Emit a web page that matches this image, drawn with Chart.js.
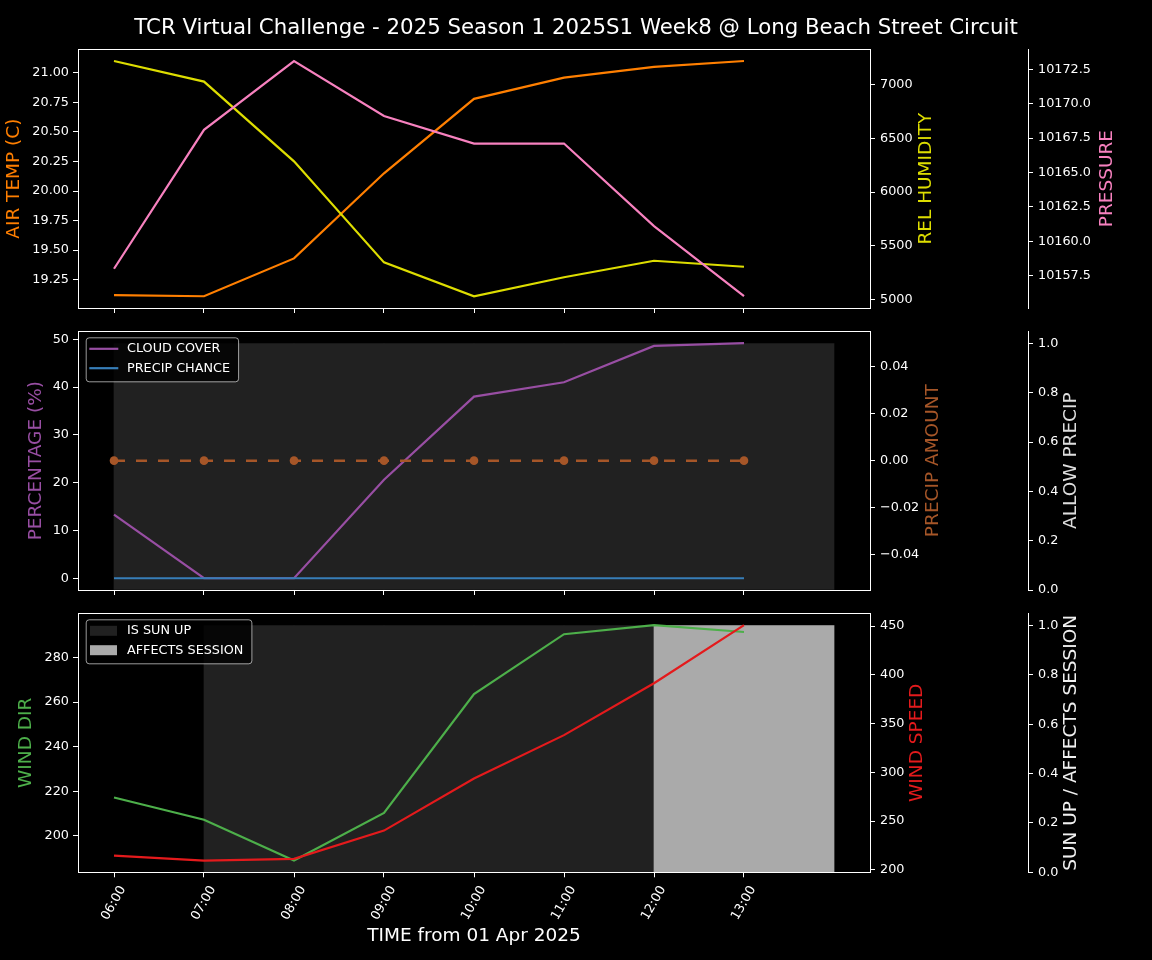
<!DOCTYPE html>
<html>
<head>
<meta charset="utf-8">
<title>TCR weather</title>
<script src="https://cdn.jsdelivr.net/npm/chart.js@4.4.1/dist/chart.umd.min.js"></script>
<style>
  html, body { margin: 0; padding: 0; background: #000; }
  #wrap { position: relative; width: 1152px; height: 960px; }
  #wrap canvas { position: absolute; left: 0; }
</style>
</head>
<body>
<div id="wrap">
  <canvas id="weather" width="1152" height="322" style="top:0px"></canvas>
  <canvas id="precip" width="1152" height="285" style="top:318px"></canvas>
  <canvas id="wind" width="1152" height="360" style="top:600px"></canvas>
</div>
<script>
// ---- data ----
const timeLabels = ['06:00', '07:00', '08:00', '09:00', '10:00', '11:00', '12:00', '13:00'];

const airTemp = [19.12, 19.11, 19.43, 20.15, 20.78, 20.96, 21.05, 21.10];
const relHumidity = [7223, 7031, 6287, 5344, 5028, 5205, 5359, 5303];
const pressure = [10158.0, 10168.1, 10173.1, 10169.1, 10167.1, 10167.1, 10161.1, 10156.0];

const cloudCover = [13.3, 0, 0, 20.6, 38.0, 41.0, 48.6, 49.2];
const precipChance = [0, 0, 0, 0, 0, 0, 0, 0];
const precipAmount = [0, 0, 0, 0, 0, 0, 0, 0];
const allowPrecip = [1, 1, 1, 1, 1, 1, 1, 1];

const windDir = [217.2, 207.2, 188.9, 210.3, 263.6, 290.5, 294.6, 291.5];
const windSpeed = [214.6, 209.5, 211.2, 240.2, 293.7, 338.1, 391.3, 451.0];
const sunUp = [0, 1, 1, 1, 1, 1, 1, 1];
const affectsSession = [0, 0, 0, 0, 0, 0, 1, 1];

// tick labels
const tempTicks = [19.25, 19.5, 19.75, 20.0, 20.25, 20.5, 20.75, 21.0];
const humidityTicks = [5000, 5500, 6000, 6500, 7000];
const pressureTicks = [10157.5, 10160.0, 10162.5, 10165.0, 10167.5, 10170.0, 10172.5];
const percentTicks = [0, 10, 20, 30, 40, 50];
const precipAmountTicks = [-0.04, -0.02, 0.0, 0.02, 0.04];
const unitTicks = [0.0, 0.2, 0.4, 0.6, 0.8, 1.0];
const windDirTicks = [200, 220, 240, 260, 280];
const windSpeedTicks = [200, 250, 300, 350, 400, 450];

// ---- look ----
const FAM = "'DejaVu Sans', sans-serif";
const tickFont = { family: FAM, size: 12.8 };
const labelFont = { family: FAM, size: 18.5 };
const C = {
  temp: '#ff7f00', hum: '#dddd00', press: '#f781bf',
  cloud: '#984ea3', chance: '#377eb8', amount: '#a65628',
  dir: '#4daf4a', speed: '#e41a1c',
  dark: '#212121', light: '#aaaaaa'
};

// matplotlib-like 5% margins
function padded(values) {
  const lo = Math.min(...values), hi = Math.max(...values);
  if (hi === lo) return [lo - 0.055, hi + 0.055];
  const m = (hi - lo) * 0.05;
  return [lo - m, hi + m];
}
const xRange = [-0.4, 8.4];
const unitRange = [0, 1.05];

const pts = arr => arr.map((v, i) => ({ x: i, y: v }));
const hourBars = arr => arr.map((v, i) => ({ x: i + 0.5, y: v }));
const minus = s => s.replace('-', '\u2212');

function yAxis(opt) {
  return {
    type: 'linear',
    position: opt.pos,
    weight: opt.weight || 0,
    min: opt.range[0],
    max: opt.range[1],
    afterFit: s => { s.width = opt.width; },
    afterBuildTicks: s => { s.ticks = opt.ticks.map(v => ({ value: v })); },
    ticks: { color: '#fff', font: tickFont, padding: opt.pos === 'left' ? 4 : 5,
             autoSkip: false, callback: opt.fmt },
    grid: { display: true, drawOnChartArea: false, color: '#fff', tickLength: 5 },
    border: { display: true, color: '#fff', width: 1 },
    title: opt.title
      ? { display: true, text: opt.title, color: opt.titleColor, font: labelFont,
          padding: { top: opt.titlePad, bottom: 0 } }
      : { display: false }
  };
}

function xAxis(height, withLabels) {
  return {
    type: 'linear',
    position: 'bottom',
    min: xRange[0],
    max: xRange[1],
    offset: false,
    bounds: 'data',
    afterFit: s => { s.height = height; },
    afterBuildTicks: s => { s.ticks = timeLabels.map((t, i) => ({ value: i })); },
    ticks: { display: withLabels, color: '#fff', font: tickFont, autoSkip: false,
             minRotation: 60, maxRotation: 60, labelOffset: 9, padding: 6,
             callback: (v, i) => timeLabels[i] },
    grid: { display: true, drawOnChartArea: false, offset: false, color: '#fff', tickLength: 5 },
    border: { display: true, color: '#fff', width: 1 },
    title: withLabels
      ? { display: true, text: 'TIME from 01 Apr 2025', color: '#fff', font: labelFont,
          padding: { top: 0, bottom: 12.9 } }
      : { display: false }
  };
}

// frame round the plot area
const frame = {
  id: 'frame',
  afterDraw(chart) {
    const a = chart.chartArea, ctx = chart.ctx;
    ctx.save();
    ctx.strokeStyle = '#fff';
    ctx.lineWidth = 1;
    ctx.strokeRect(Math.round(a.left) + 0.5, Math.round(a.top) + 0.5,
                   Math.round(a.right - a.left), Math.round(a.bottom - a.top));
    ctx.restore();
  }
};

// titles of right-hand axes, reading bottom to top
const sideTitles = {
  id: 'sideTitles',
  afterDraw(chart, args, opts) {
    const ctx = chart.ctx;
    (opts.items || []).forEach(it => {
      const s = chart.scales[it.scale];
      ctx.save();
      ctx.translate(s.left + it.dx, (s.top + s.bottom) / 2);
      ctx.rotate(-Math.PI / 2);
      ctx.font = labelFont.size + 'px ' + FAM;
      ctx.fillStyle = it.color;
      ctx.textAlign = 'center';
      ctx.textBaseline = 'middle';
      ctx.fillText(it.text, 0, 0);
      ctx.restore();
    });
  }
};

// legend boxed inside the plot area (top left)
const boxLegend = {
  id: 'boxLegend',
  afterDatasetsDraw(chart, args, opts) {
    if (!opts.datasets) return;
    const ctx = chart.ctx, a = chart.chartArea;
    const items = opts.datasets.map(i => chart.data.datasets[i]);
    ctx.save();
    ctx.font = tickFont.size + 'px ' + FAM;
    const textW = Math.max(...items.map(d => ctx.measureText(d.label).width));
    const x = a.left + 7.7, y = a.top + 6;
    const w = 41.3 + textW + 8, h = 44;
    ctx.beginPath();
    ctx.roundRect(x + 0.5, y + 0.5, w, h, 3);
    ctx.fillStyle = 'rgba(0,0,0,0.8)';
    ctx.fill();
    ctx.strokeStyle = 'rgba(255,255,255,0.6)';
    ctx.lineWidth = 1;
    ctx.stroke();
    items.forEach((d, k) => {
      const cy = y + 11.5 + k * 19.4;
      if (opts.kind === 'line') {
        ctx.strokeStyle = d.borderColor;
        ctx.lineWidth = 2.2;
        ctx.beginPath();
        ctx.moveTo(x + 3.6, cy);
        ctx.lineTo(x + 32.6, cy);
        ctx.stroke();
      } else {
        ctx.fillStyle = d.backgroundColor;
        ctx.fillRect(x + 4.3, cy - 5, 27, 10);
      }
      ctx.fillStyle = '#fff';
      ctx.textAlign = 'left';
      ctx.textBaseline = 'middle';
      ctx.fillText(d.label, x + 41.3, cy);
    });
    ctx.restore();
  }
};

Chart.defaults.font.family = FAM;
Chart.defaults.color = '#fff';

const line = (label, data, color, axis, order, extra) => Object.assign({
  type: 'line', label, data: pts(data), borderColor: color, backgroundColor: color,
  borderWidth: 2.2, pointRadius: 0, tension: 0, yAxisID: axis, order
}, extra || {});

const bars = (label, data, color, axis, order) => ({
  type: 'bar', label, data: hourBars(data), backgroundColor: color, borderWidth: 0,
  barPercentage: 1, categoryPercentage: 1, grouped: false, yAxisID: axis, order
});

const base = {
  responsive: false,
  animation: false,
  events: [],
  layout: { padding: 0 }
};

// ---- panel 1: temperature / humidity / pressure ----
new Chart(document.getElementById('weather'), {
  type: 'line',
  data: {
    datasets: [
      line('AIR TEMP', airTemp, C.temp, 'yTemp', 2),
      line('REL HUMIDITY', relHumidity, C.hum, 'yHum', 1),
      line('PRESSURE', pressure, C.press, 'yPress', 0)
    ]
  },
  options: Object.assign({}, base, {
    scales: {
      x: xAxis(14, false),
      yTemp: yAxis({ pos: 'left', width: 78, range: padded(airTemp), ticks: tempTicks,
                     fmt: v => v.toFixed(2), title: 'AIR TEMP (C)', titleColor: C.temp, titlePad: 3.1 }),
      yHum: yAxis({ pos: 'right', weight: 0, width: 158, range: padded(relHumidity), ticks: humidityTicks,
                    fmt: v => String(Math.round(v)) }),
      yPress: yAxis({ pos: 'right', weight: 1, width: 124, range: padded(pressure), ticks: pressureTicks,
                      fmt: v => v.toFixed(1) })
    },
    plugins: {
      legend: { display: false },
      tooltip: { enabled: false },
      title: { display: true, text: 'TCR Virtual Challenge - 2025 Season 1 2025S1 Week8 @ Long Beach Street Circuit',
               color: '#fff', font: { family: FAM, size: 21.3, weight: 'normal' },
               padding: { top: 16, bottom: 7.7 } },
      sideTitles: { items: [
        { scale: 'yHum', dx: 56, text: 'REL HUMIDITY', color: C.hum },
        { scale: 'yPress', dx: 79.4, text: 'PRESSURE', color: C.press }
      ] }
    }
  }),
  plugins: [frame, sideTitles]
});

// ---- panel 2: clouds / precipitation ----
new Chart(document.getElementById('precip'), {
  type: 'line',
  data: {
    datasets: [
      line('CLOUD COVER', cloudCover, C.cloud, 'yPct', 2),
      line('PRECIP CHANCE', precipChance, C.chance, 'yPct', 1),
      line('PRECIP AMOUNT', precipAmount, C.amount, 'yAmount', 0,
           { borderDash: [11, 11], borderWidth: 2.5, pointRadius: 4.3, pointBorderWidth: 0 }),
      bars('ALLOW PRECIP', allowPrecip, C.dark, 'yAllow', 5)
    ]
  },
  options: Object.assign({}, base, {
    layout: { padding: { top: 13.3 } },
    scales: {
      x: xAxis(13, false),
      yPct: yAxis({ pos: 'left', width: 78, range: padded(cloudCover.concat(precipChance)), ticks: percentTicks,
                    fmt: v => String(v), title: 'PERCENTAGE (%)', titleColor: C.cloud, titlePad: 24.7 }),
      yAmount: yAxis({ pos: 'right', weight: 0, width: 158, range: padded(precipAmount), ticks: precipAmountTicks,
                       fmt: v => minus(v.toFixed(2)) }),
      yAllow: yAxis({ pos: 'right', weight: 1, width: 124, range: unitRange, ticks: unitTicks,
                      fmt: v => v.toFixed(1) })
    },
    plugins: {
      legend: { display: false },
      tooltip: { enabled: false },
      boxLegend: { datasets: [0, 1], kind: 'line' },
      sideTitles: { items: [
        { scale: 'yAmount', dx: 63.3, text: 'PRECIP AMOUNT', color: C.amount },
        { scale: 'yAllow', dx: 43.4, text: 'ALLOW PRECIP', color: '#dddddd' }
      ] }
    }
  }),
  plugins: [frame, sideTitles, boxLegend]
});

// ---- panel 3: wind / sun / session ----
new Chart(document.getElementById('wind'), {
  type: 'line',
  data: {
    datasets: [
      bars('IS SUN UP', sunUp, C.dark, 'ySun', 6),
      bars('AFFECTS SESSION', affectsSession, C.light, 'ySun', 5),
      line('WIND DIR', windDir, C.dir, 'yDir', 1),
      line('WIND SPEED', windSpeed, C.speed, 'ySpeed', 0)
    ]
  },
  options: Object.assign({}, base, {
    layout: { padding: { top: 13.3 } },
    scales: {
      x: xAxis(87.7, true),
      yDir: yAxis({ pos: 'left', width: 78, range: padded(windDir), ticks: windDirTicks,
                    fmt: v => String(v), title: 'WIND DIR', titleColor: C.dir, titlePad: 15.2 }),
      ySpeed: yAxis({ pos: 'right', weight: 0, width: 158, range: padded(windSpeed), ticks: windSpeedTicks,
                      fmt: v => String(v) }),
      ySun: yAxis({ pos: 'right', weight: 1, width: 124, range: unitRange, ticks: unitTicks,
                    fmt: v => v.toFixed(1) })
    },
    plugins: {
      legend: { display: false },
      tooltip: { enabled: false },
      boxLegend: { datasets: [0, 1], kind: 'box' },
      sideTitles: { items: [
        { scale: 'ySpeed', dx: 47.2, text: 'WIND SPEED', color: C.speed },
        { scale: 'ySun', dx: 42.7, text: 'SUN UP / AFFECTS SESSION', color: '#f0f0f0' }
      ] }
    }
  }),
  plugins: [frame, sideTitles, boxLegend]
});
</script>
</body>
</html>
